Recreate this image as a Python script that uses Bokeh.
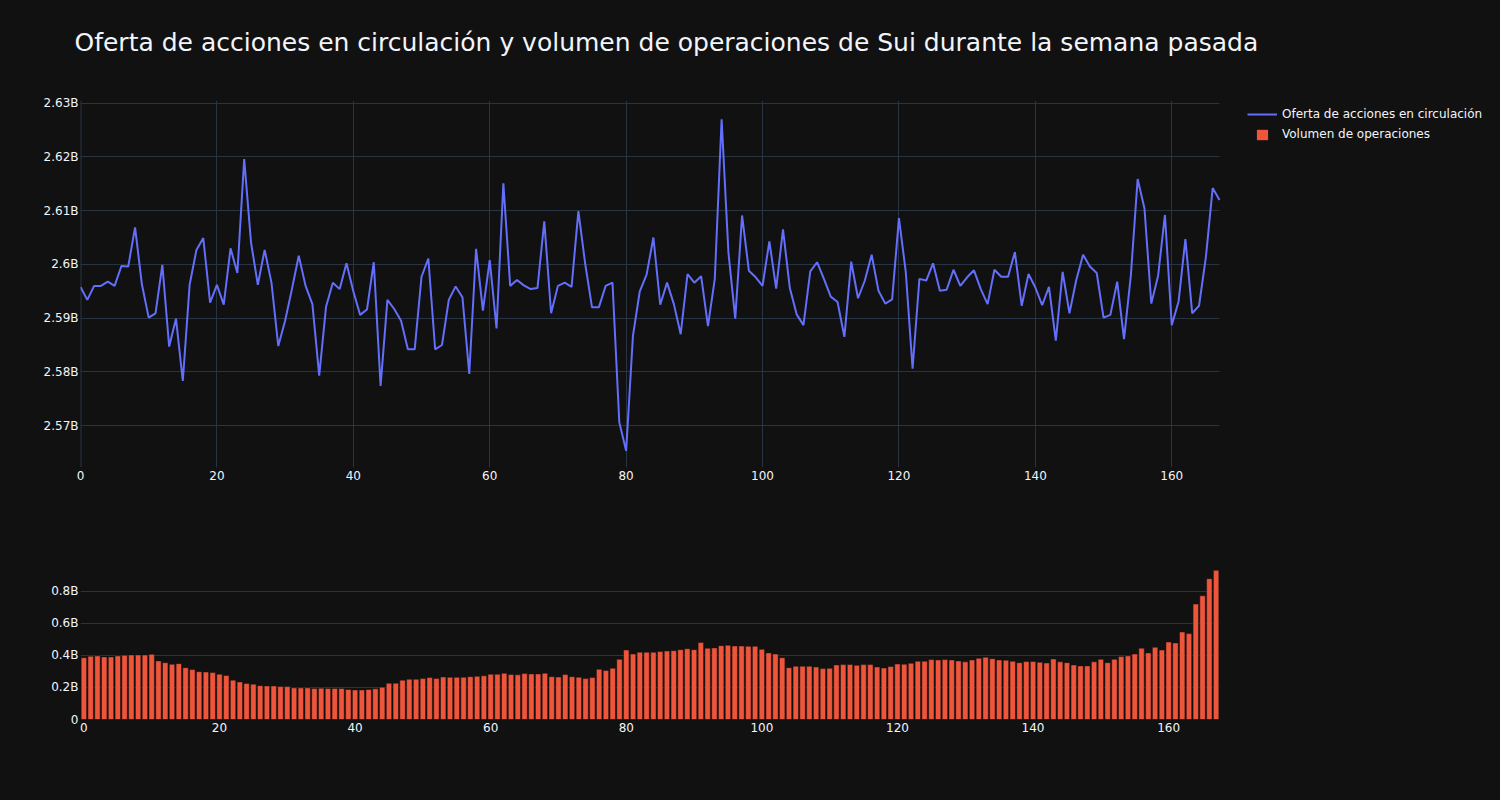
from bokeh.plotting import figure
from bokeh.layouts import column
from bokeh.models import (Range1d, FixedTicker, Span, Legend, LegendItem,
                          ColumnDataSource, BoxAnnotation)
from bokeh.embed import file_html
from bokeh.resources import INLINE

# ---------------- data ----------------
title_text = "Oferta de acciones en circulación y volumen de operaciones de Sui durante la semana pasada"
supply_label = "Oferta de acciones en circulación"
volume_label = "Volumen de operaciones"

hours = list(range(168))

supply_b = [
    2.5958, 2.5934, 2.5960, 2.5960, 2.5968, 2.5960, 2.5997, 2.5996, 2.6069, 2.5963,
    2.5901, 2.5909, 2.5999, 2.5847, 2.5899, 2.5783, 2.5962, 2.6027, 2.6049, 2.5929,
    2.5962, 2.5925, 2.6030, 2.5984, 2.6196, 2.6041, 2.5962, 2.6027, 2.5966, 2.5848,
    2.5895, 2.5954, 2.6016, 2.5960, 2.5926, 2.5793, 2.5921, 2.5966, 2.5954, 2.6002,
    2.5950, 2.5906, 2.5916, 2.6004, 2.5774, 2.5934, 2.5917, 2.5895, 2.5842, 2.5842,
    2.5977, 2.6011, 2.5842, 2.5850, 2.5934, 2.5959, 2.5939, 2.5796, 2.6029, 2.5914,
    2.6008, 2.5881, 2.6151, 2.5960, 2.5971, 2.5961, 2.5954, 2.5956, 2.6080, 2.5909,
    2.5960, 2.5966, 2.5958, 2.6099, 2.6001, 2.5920, 2.5920, 2.5960, 2.5966, 2.5706,
    2.5653, 2.5867, 2.5950, 2.5981, 2.6050, 2.5925, 2.5966, 2.5926, 2.5870, 2.5982,
    2.5966, 2.5978, 2.5885, 2.5973, 2.6270, 2.6022, 2.5899, 2.6091, 2.5988, 2.5976,
    2.5960, 2.6043, 2.5955, 2.6065, 2.5956, 2.5907, 2.5887, 2.5987, 2.6004, 2.5973,
    2.5940, 2.5930, 2.5865, 2.6005, 2.5937, 2.5970, 2.6018, 2.5951, 2.5927, 2.5935,
    2.6086, 2.5986, 2.5806, 2.5973, 2.5970, 2.6002, 2.5951, 2.5953, 2.5990, 2.5960,
    2.5976, 2.5989, 2.5954, 2.5926, 2.5990, 2.5977, 2.5977, 2.6023, 2.5923, 2.5982,
    2.5957, 2.5924, 2.5958, 2.5858, 2.5986, 2.5909, 2.5971, 2.6018, 2.5996, 2.5984,
    2.5901, 2.5906, 2.5968, 2.5861, 2.5979, 2.6159, 2.6104, 2.5927, 2.5979, 2.6092,
    2.5887, 2.5931, 2.6047, 2.5909, 2.5923, 2.6013, 2.6142, 2.6120,
]

volume_b = [
    0.385, 0.394, 0.396, 0.390, 0.390, 0.396, 0.400, 0.402, 0.402, 0.402,
    0.406, 0.365, 0.354, 0.344, 0.348, 0.323, 0.311, 0.298, 0.296, 0.292,
    0.282, 0.274, 0.245, 0.234, 0.224, 0.220, 0.211, 0.209, 0.209, 0.205,
    0.205, 0.197, 0.197, 0.197, 0.193, 0.195, 0.193, 0.193, 0.193, 0.187,
    0.184, 0.184, 0.187, 0.191, 0.201, 0.226, 0.226, 0.245, 0.251, 0.251,
    0.255, 0.261, 0.255, 0.265, 0.263, 0.263, 0.263, 0.267, 0.269, 0.272,
    0.282, 0.282, 0.288, 0.280, 0.278, 0.286, 0.284, 0.284, 0.288, 0.267,
    0.265, 0.280, 0.267, 0.263, 0.255, 0.261, 0.313, 0.305, 0.319, 0.375,
    0.433, 0.408, 0.419, 0.419, 0.419, 0.423, 0.427, 0.429, 0.435, 0.441,
    0.435, 0.479, 0.444, 0.446, 0.460, 0.462, 0.458, 0.458, 0.456, 0.456,
    0.437, 0.415, 0.408, 0.385, 0.323, 0.332, 0.332, 0.332, 0.327, 0.317,
    0.319, 0.340, 0.342, 0.342, 0.338, 0.342, 0.342, 0.327, 0.321, 0.330,
    0.346, 0.344, 0.350, 0.363, 0.363, 0.373, 0.371, 0.373, 0.371, 0.365,
    0.359, 0.371, 0.381, 0.388, 0.379, 0.371, 0.369, 0.363, 0.354, 0.361,
    0.361, 0.356, 0.352, 0.377, 0.359, 0.354, 0.340, 0.334, 0.334, 0.359,
    0.375, 0.354, 0.375, 0.392, 0.396, 0.408, 0.444, 0.415, 0.450, 0.433,
    0.483, 0.477, 0.545, 0.535, 0.719, 0.771, 0.877, 0.929,
]

x_ticks = [0, 20, 40, 60, 80, 100, 120, 140, 160]
supply_ticks = [2.57, 2.58, 2.59, 2.60, 2.61, 2.62, 2.63]
supply_tick_labels = ["2.57B", "2.58B", "2.59B", "2.6B", "2.61B", "2.62B", "2.63B"]
volume_ticks = [0, 0.2, 0.4, 0.6, 0.8]
volume_tick_labels = ["0", "0.2B", "0.4B", "0.6B", "0.8B"]

# ---------------- style / geometry ----------------
BG = "#111111"
GRID = "#283442"
TXT = "#f2f5fa"
FONT = "DejaVu Sans"
LINE_C = "#636EFA"
BAR_C = "#EF553B"

FIG_W = 1496
LEFT = 80
RIGHT = 6
DATA_PX = 1139                     # pixel width of the data area
FRAME_W = FIG_W - LEFT - RIGHT     # frame reaches under the legend
EXT = FRAME_W / DATA_PX            # frame width / data-area width


def style(p):
    p.background_fill_color = BG
    p.border_fill_color = BG
    p.outline_line_color = None
    for ax in (p.xaxis[0], p.yaxis[0]):
        ax.axis_line_color = None
        ax.major_tick_line_color = None
        ax.minor_tick_line_color = None
        ax.major_tick_out = 0
        ax.major_tick_in = 0
        ax.major_label_text_color = TXT
        ax.major_label_text_font = FONT
        ax.major_label_text_font_size = "12px"
    p.xaxis[0].major_label_standoff = 3
    p.yaxis[0].major_label_standoff = 2
    p.xgrid.grid_line_color = GRID
    p.ygrid.grid_line_color = GRID
    p.xgrid.grid_line_width = 1
    p.ygrid.grid_line_width = 1


volume_src = ColumnDataSource(dict(x=hours, top=volume_b))

# ---------------- top: supply line ----------------
x0, x1 = hours[0], hours[-1]
p = figure(width=FIG_W, height=510, output_backend="svg", toolbar_location=None,
           x_range=Range1d(x0, x0 + (x1 - x0) * EXT),
           y_range=Range1d(2.5622, 2.6305),
           min_border_left=LEFT, min_border_right=RIGHT, min_border_top=100,
           min_border_bottom=43)
style(p)
p.title.text = title_text
p.title.align = "left"
p.title.offset = -6
p.title.text_font = FONT
p.title.text_font_size = "25px"
p.title.text_font_style = "normal"
p.title.text_color = TXT
try:
    p.title.standoff = 0
    p.title.padding = dict(top=0, right=0, bottom=44, left=0)
except Exception:
    p.title.standoff = 66

p.xaxis[0].ticker = FixedTicker(ticks=x_ticks)
p.yaxis[0].ticker = FixedTicker(ticks=supply_ticks)
p.yaxis[0].major_label_overrides = dict(zip(supply_ticks, supply_tick_labels))
p.add_layout(Span(location=0, dimension="height", line_color=GRID, line_width=2,
                  level="underlay"))
# hide the grid to the right of the data area (legend zone)
p.add_layout(BoxAnnotation(left=x1, fill_color=BG, fill_alpha=1, line_alpha=0,
                           level="underlay"))

line_r = p.line(hours, supply_b, line_color=LINE_C, line_width=2)
# zero-size copy of the volume bars: draws nothing, only gives the legend swatch
legend_bar = p.vbar(x="x", top="top", bottom="top", width=0, source=volume_src,
                    fill_color=BAR_C, line_alpha=0)

leg1 = Legend(items=[LegendItem(label=supply_label, renderers=[line_r])],
              location=(1167, 343), orientation="vertical",
              glyph_width=30, glyph_height=20, label_height=20,
              label_standoff=5, padding=0, margin=0, spacing=0,
              background_fill_alpha=0, border_line_alpha=0,
              label_text_color=TXT, label_text_font=FONT,
              label_text_font_size="12px")
leg2 = Legend(items=[LegendItem(label=volume_label, renderers=[legend_bar], index=0)],
              location=(1175, 326), orientation="vertical",
              glyph_width=14, glyph_height=13, label_height=13,
              label_standoff=13, padding=0, margin=0, spacing=0,
              background_fill_alpha=0, border_line_alpha=0,
              label_text_color=TXT, label_text_font=FONT,
              label_text_font_size="12px")
p.add_layout(leg1)
p.add_layout(leg2)

# ---------------- bottom: volume bars ----------------
b0, b1 = hours[0] - 0.5, hours[-1] + 0.5
p2 = figure(width=FIG_W, height=288, output_backend="svg", toolbar_location=None,
            x_range=Range1d(b0, b0 + (b1 - b0) * EXT), y_range=Range1d(0, 0.978),
            min_border_left=LEFT, min_border_right=RIGHT, min_border_top=52,
            min_border_bottom=79)
style(p2)
p2.xgrid.visible = False
p2.xaxis[0].ticker = FixedTicker(ticks=x_ticks)
p2.yaxis[0].ticker = FixedTicker(ticks=volume_ticks)
p2.yaxis[0].major_label_overrides = dict(zip(volume_ticks, volume_tick_labels))
p2.add_layout(BoxAnnotation(left=b1, fill_color=BG, fill_alpha=1, line_alpha=0,
                            level="underlay"))
p2.vbar(x="x", top="top", width=0.8, source=volume_src, fill_color=BAR_C,
        line_color=BG, line_width=0.5)

layout = column(p, p2, spacing=0)

html = file_html(layout, INLINE)
html = html.replace(
    "</head>",
    "<style>html, body {background-color:#111111 !important; margin:0 !important; overflow:hidden;}</style>\n</head>",
    1)
open("out.html", "w").write(html)
